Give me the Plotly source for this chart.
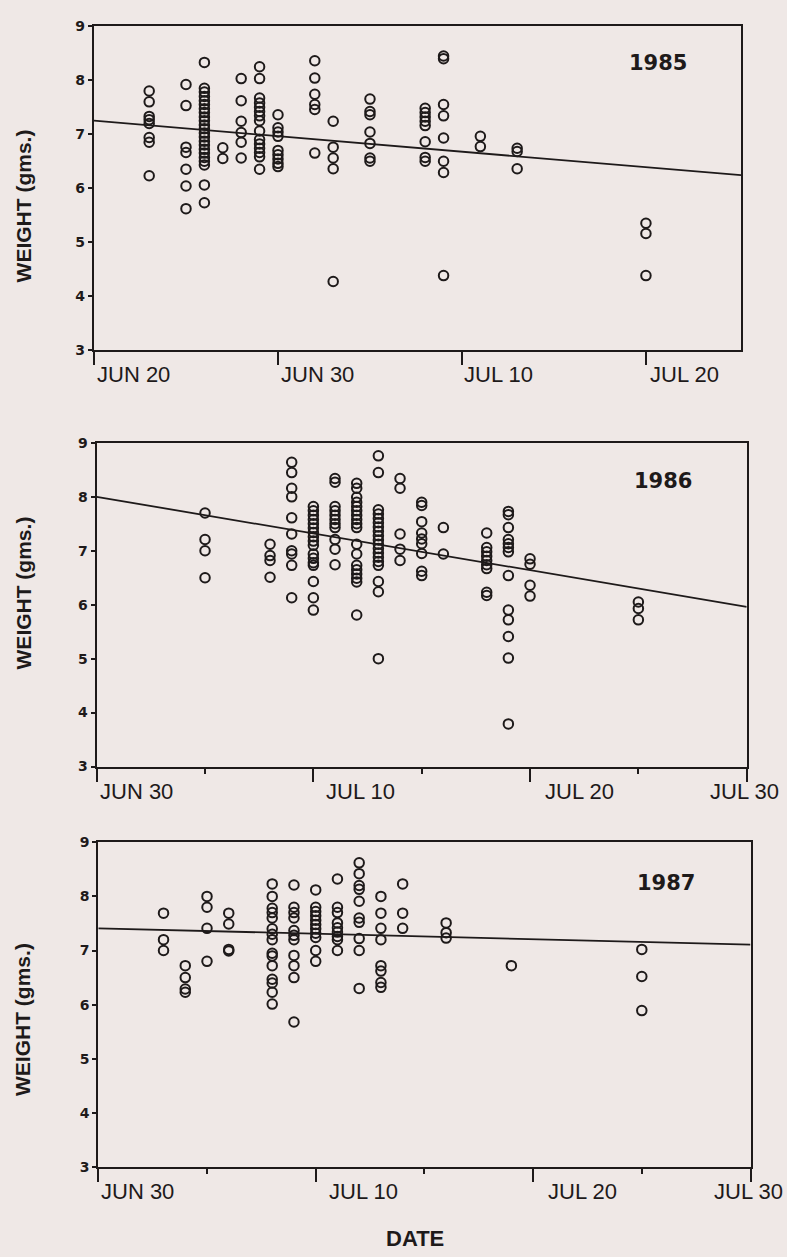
import plotly.graph_objects as go

W, H = 787, 1257
INK = "#1e1a1a"
BG = "#efe8e6"

# ---------------- data ----------------
days_1985 = ["1985-06-23", "1985-06-25", "1985-06-26", "1985-06-27", "1985-06-28",
             "1985-06-29", "1985-06-30", "1985-07-02", "1985-07-03", "1985-07-05",
             "1985-07-08", "1985-07-09", "1985-07-11", "1985-07-13", "1985-07-20"]
weights_1985 = [
    [7.80, 7.60, 7.33, 7.27, 7.20, 6.94, 6.85, 6.23],
    [7.92, 7.53, 6.76, 6.66, 6.35, 6.04, 5.62],
    [8.33, 7.85, 7.78, 7.70, 7.62, 7.55, 7.47, 7.40, 7.32, 7.25, 7.17, 7.10, 7.02,
     6.95, 6.87, 6.80, 6.72, 6.65, 6.57, 6.50, 6.43, 6.06, 5.73],
    [6.75, 6.55],
    [8.03, 7.62, 7.24, 7.03, 6.85, 6.56],
    [8.25, 8.03, 7.67, 7.58, 7.50, 7.42, 7.34, 7.25, 7.06, 6.90, 6.82, 6.74, 6.66, 6.58, 6.35],
    [7.36, 7.12, 7.04, 6.96, 6.70, 6.62, 6.54, 6.46, 6.40],
    [8.36, 8.04, 7.74, 7.55, 7.46, 6.65],
    [7.24, 6.76, 6.56, 6.36, 4.27],
    [7.65, 7.42, 7.36, 7.04, 6.83, 6.56, 6.50],
    [7.48, 7.40, 7.32, 7.24, 7.16, 6.86, 6.57, 6.50],
    [8.45, 8.40, 7.55, 7.34, 6.93, 6.50, 6.29, 4.38],
    [6.96, 6.77],
    [6.74, 6.68, 6.36],
    [5.35, 5.16, 4.38],
]
fit_dates_1985 = ["1985-06-20", "1985-07-25 04:00"]
fit_weights_1985 = [7.25, 6.24]

days_1986 = ["1986-07-05", "1986-07-08", "1986-07-09", "1986-07-10", "1986-07-11",
             "1986-07-12", "1986-07-13", "1986-07-14", "1986-07-15", "1986-07-16",
             "1986-07-18", "1986-07-19", "1986-07-20", "1986-07-25"]
weights_1986 = [
    [7.70, 7.21, 7.00, 6.50],
    [7.12, 6.91, 6.82, 6.51],
    [8.64, 8.45, 8.16, 8.00, 7.61, 7.31, 7.00, 6.94, 6.73, 6.13],
    [7.82, 7.74, 7.66, 7.58, 7.50, 7.42, 7.34, 7.26, 7.18, 7.10, 6.94, 6.86, 6.78,
     6.73, 6.43, 6.13, 5.90],
    [8.34, 8.27, 7.82, 7.74, 7.66, 7.58, 7.50, 7.43, 7.21, 7.03, 6.74],
    [8.25, 8.16, 7.99, 7.90, 7.82, 7.74, 7.66, 7.58, 7.50, 7.43, 7.12, 6.94, 6.73,
     6.65, 6.57, 6.49, 6.42, 5.81],
    [8.76, 8.45, 7.76, 7.68, 7.60, 7.52, 7.44, 7.36, 7.28, 7.20, 7.12, 7.04, 6.96,
     6.88, 6.80, 6.73, 6.43, 6.24, 5.00],
    [8.34, 8.16, 7.31, 7.03, 6.82],
    [7.90, 7.84, 7.54, 7.33, 7.22, 7.13, 6.95, 6.62, 6.54],
    [7.43, 6.94],
    [7.33, 7.06, 6.98, 6.90, 6.82, 6.74, 6.67, 6.23, 6.17],
    [7.73, 7.67, 7.43, 7.21, 7.13, 7.06, 6.98, 6.54, 5.90, 5.72, 5.41, 5.01, 3.79],
    [6.85, 6.75, 6.36, 6.16],
    [6.05, 5.93, 5.72],
]
fit_dates_1986 = ["1986-06-30", "1986-07-30"]
fit_weights_1986 = [8.00, 5.96]

days_1987 = ["1987-07-03", "1987-07-04", "1987-07-05", "1987-07-06", "1987-07-08",
             "1987-07-09", "1987-07-10", "1987-07-11", "1987-07-12", "1987-07-13",
             "1987-07-14", "1987-07-16", "1987-07-19", "1987-07-25"]
weights_1987 = [
    [7.69, 7.20, 7.00],
    [6.72, 6.50, 6.29, 6.23],
    [8.00, 7.80, 7.41, 6.80],
    [7.69, 7.49, 7.02, 6.99],
    [8.23, 8.00, 7.78, 7.70, 7.60, 7.40, 7.30, 7.20, 6.95, 6.90, 6.72, 6.47, 6.40, 6.23, 6.01],
    [8.21, 7.80, 7.70, 7.60, 7.37, 7.28, 7.20, 6.91, 6.72, 6.50, 5.68],
    [8.12, 7.80, 7.72, 7.64, 7.56, 7.48, 7.40, 7.32, 7.24, 7.00, 6.80],
    [8.32, 7.80, 7.70, 7.51, 7.42, 7.34, 7.26, 7.20, 7.00],
    [8.62, 8.42, 8.20, 8.13, 7.91, 7.60, 7.52, 7.22, 7.00, 6.30],
    [8.00, 7.69, 7.41, 7.20, 6.72, 6.62, 6.41, 6.32],
    [8.23, 7.69, 7.41],
    [7.51, 7.33, 7.23],
    [6.72],
    [7.02, 6.52, 5.89],
]
fit_dates_1987 = ["1987-06-30", "1987-07-30"]
fit_weights_1987 = [7.41, 7.11]

years = ["1985", "1986", "1987"]
x_ranges = [["1985-06-20", "1985-07-25 04:00"],
            ["1986-06-30", "1986-07-30"],
            ["1987-06-30", "1987-07-30"]]
major_ticks = [["1985-06-20", "1985-06-30", "1985-07-10", "1985-07-20"],
               ["1986-06-30", "1986-07-10", "1986-07-20", "1986-07-30"],
               ["1987-06-30", "1987-07-10", "1987-07-20", "1987-07-30"]]
minor_ticks = [[],
               ["1986-07-05", "1986-07-15", "1986-07-25"],
               ["1987-07-05", "1987-07-15", "1987-07-25"]]
major_labels = [["JUN 20", "JUN 30", "JUL 10", "JUL 20"],
                ["JUN 30", "JUL 10", "JUL 20", "JUL 30"],
                ["JUN 30", "JUL 10", "JUL 20", "JUL 30"]]
y_ticks = [3, 4, 5, 6, 7, 8, 9]
y_title = "WEIGHT (gms.)"
x_title = "DATE"

all_days = [days_1985, days_1986, days_1987]
all_weights = [weights_1985, weights_1986, weights_1987]
all_fit_x = [fit_dates_1985, fit_dates_1986, fit_dates_1987]
all_fit_y = [fit_weights_1985, fit_weights_1986, fit_weights_1987]

# ---------------- layout geometry (pixels) ----------------
x_px = [(94, 741), (96.7, 746.7), (98.3, 750.5)]
y_px = [(18.5, 346.5), (440.5, 768.3), (845.0, 1174.0)]
title_center_px = [201, 593, 1025]
label_style = [[("left", 1), ("left", 1), ("left", 0), ("left", 2)],
               [("left", 1), ("left", 11), ("left", 13), ("center", -2)],
               [("left", 1), ("left", 11), ("left", 13), ("center", -2)]]
year_pos = [(0.872, 0.886), (0.871, 0.883), (0.871, 0.873)]

fig = go.Figure()
annotations = []
layout_axes = {}

for i in range(3):
    sfx = "" if i == 0 else str(i + 1)
    xa, ya = "x" + sfx, "y" + sfx
    xs = [d for d, ws in zip(all_days[i], all_weights[i]) for _ in ws]
    ys = [w for ws in all_weights[i] for w in ws]
    fig.add_trace(go.Scatter(
        x=xs, y=ys, mode="markers", xaxis=xa, yaxis=ya, showlegend=False,
        marker=dict(symbol="circle-open", size=9.5, color=INK, line=dict(width=2, color=INK)),
        cliponaxis=False))
    fig.add_trace(go.Scatter(
        x=all_fit_x[i], y=all_fit_y[i], mode="lines", xaxis=xa, yaxis=ya,
        showlegend=False, line=dict(color=INK, width=1.8)))

    l, r = x_px[i]
    t, b = y_px[i]
    layout_axes["xaxis" + sfx] = dict(
        type="date", domain=[l / W, r / W], range=x_ranges[i], anchor=ya,
        showline=True, linecolor=INK, linewidth=2.2, mirror=True,
        ticks="outside", ticklen=13, tickwidth=2, tickcolor=INK,
        tickmode="array", tickvals=major_ticks[i], showticklabels=False,
        showgrid=False, zeroline=False,
        minor=dict(tickmode="array", tickvals=minor_ticks[i] if minor_ticks[i] else None,
                   ticks="outside" if minor_ticks[i] else "", ticklen=5,
                   tickwidth=1.5, tickcolor=INK, showgrid=False))
    layout_axes["yaxis" + sfx] = dict(
        domain=[1 - b / H, 1 - t / H], range=[3, 9], anchor=xa,
        showline=True, linecolor=INK, linewidth=2.2, mirror=True,
        ticks="outside", ticklen=4, tickwidth=1.5, tickcolor=INK,
        tickmode="array", tickvals=y_ticks,
        tickfont=dict(family="DejaVu Sans", size=14, color=INK, weight="bold"),
        showgrid=False, zeroline=False)

    for d, txt, (anc, sh) in zip(major_ticks[i], major_labels[i], label_style[i]):
        annotations.append(dict(
            x=d, y=0, xref=xa, yref=ya + " domain", text=txt, showarrow=False,
            xanchor=anc, yanchor="top", xshift=sh, yshift=-10,
            font=dict(family="Liberation Sans", size=22, color=INK)))

    annotations.append(dict(
        x=year_pos[i][0], y=year_pos[i][1], xref=xa + " domain", yref=ya + " domain",
        text=years[i], showarrow=False, xanchor="center", yanchor="middle",
        font=dict(family="DejaVu Sans", size=21, color=INK, weight="bold")))

    annotations.append(dict(
        x=23 / W, y=1 - title_center_px[i] / H, xref="paper", yref="paper",
        text=y_title, textangle=-90, showarrow=False, xanchor="center", yanchor="middle",
        font=dict(family="Liberation Sans", size=21, color=INK, weight="bold")))

annotations.append(dict(
    x=415 / W, y=1 - 1246 / H, xref="paper", yref="paper", text=x_title,
    showarrow=False, xanchor="center", yanchor="middle",
    font=dict(family="Liberation Sans", size=22, color=INK, weight="bold")))

fig.update_layout(
    width=W, height=H, margin=dict(l=0, r=0, t=0, b=0),
    paper_bgcolor=BG, plot_bgcolor=BG, annotations=annotations,
    showlegend=False, **layout_axes)

fig.write_html("out.html", config={"displayModeBar": False})
